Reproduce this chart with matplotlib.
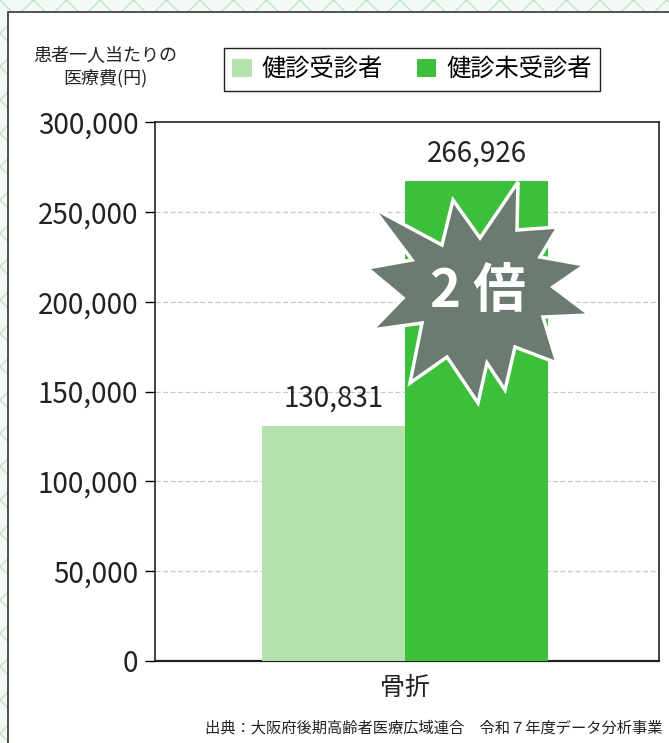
import matplotlib.pyplot as plt
from matplotlib.patches import Rectangle, Polygon

plt.rcParams['font.family'] = ['Noto Sans CJK JP', 'DejaVu Sans']

categories = ["骨折"]
series_names = ["健診受診者", "健診未受診者"]
values_checked = [130831]
values_unchecked = [266926]
yticks = [0, 50000, 100000, 150000, 200000, 250000, 300000]

light_green = "#b4e2ad"
dark_green = "#3dbf3c"

W, H = 669, 743
fig = plt.figure(figsize=(W / 100, H / 100), dpi=100)
fig.patch.set_facecolor("#f3faf5")

# page background pattern and white panel
bg = Rectangle((0, 0), 1, 1, transform=fig.transFigure, facecolor="#f3faf5",
               edgecolor="#bfe3c9", hatch="x", linewidth=0, zorder=-10)
fig.patches.append(bg)
panel = Rectangle((8 / W, -0.05), 1.0, 1 - 12 / H + 0.05, transform=fig.transFigure,
                  facecolor="white", edgecolor="#333333", linewidth=1.2, zorder=-9)
fig.patches.append(panel)

ax = fig.add_axes([155 / W, 1 - 661 / H, 504 / W, 539 / H])
ax.set_facecolor("white")

w = 0.284
x0 = 0.0
ax.bar([x0 - w / 2], values_checked, width=w, color=light_green, label=series_names[0], zorder=3)
ax.bar([x0 + w / 2], values_unchecked, width=w, color=dark_green, label=series_names[1], zorder=3)

for x, v in [(x0 - w / 2, values_checked[0]), (x0 + w / 2, values_unchecked[0])]:
    ax.text(x, v + 7000, f"{v:,}", ha="center", va="bottom", fontsize=20, color="#222222")

ax.set_xlim(-0.496, 0.504)
ax.set_ylim(0, 300000)
ax.set_yticks(yticks)
ax.set_yticklabels([f"{t:,}" for t in yticks], fontsize=20, color="#222222")
ax.set_xticks([x0])
ax.set_xticklabels(categories, fontsize=18, color="#222222")
ax.tick_params(axis="x", length=0, pad=10)
ax.tick_params(axis="y", length=7, width=1, direction="out", pad=5)
for t in yticks[1:-1]:
    ax.axhline(t, color="#c8c8c8", linewidth=0.9, linestyle=(0, (4, 2)), zorder=1)
for s in ax.spines.values():
    s.set_color("#222222")
    s.set_linewidth(1.2)
ax.spines["bottom"].set_linewidth(1.6)

# starburst
star_px = [(518, 182), (480, 238), (453, 200), (442, 245), (373, 208), (412, 260),
           (367, 268), (403, 298), (372, 330), (422, 323), (410, 383), (447, 357),
           (478, 403), (487, 363), (505, 390), (515, 347), (557, 363), (543, 317),
           (590, 315), (553, 287), (585, 265), (540, 257), (558, 227), (517, 230)]
star = Polygon([(px / W, 1 - py / H) for px, py in star_px], closed=True,
               transform=fig.transFigure, facecolor="#6b7b70", edgecolor="white",
               linewidth=2.5, zorder=20)
fig.patches.append(star)
fig.text(478 / W, 1 - 292 / H, "2 倍", ha="center", va="center", fontsize=38,
         fontweight="bold", color="white", zorder=21)

# y-axis title
fig.text(105 / W, 1 - 67 / H, "患者一人当たりの\n医療費(円)", ha="center", va="center",
         fontsize=13, color="#222222", linespacing=1.35)

fig.legend(loc="center", bbox_to_anchor=(412 / W, 1 - 69.5 / H), ncol=2,
           fontsize=17.5, frameon=True, fancybox=False, edgecolor="#222222",
           handlelength=0.8, handleheight=0.8, handletextpad=0.4, columnspacing=1.4,
           borderpad=0.35, framealpha=1)

fig.text(205 / W, 1 - 728 / H, "出典：大阪府後期高齢者医療広域連合　令和７年度データ分析事業",
         ha="left", va="center", fontsize=11, color="#222222")

fig.savefig("out.png", dpi=100)
